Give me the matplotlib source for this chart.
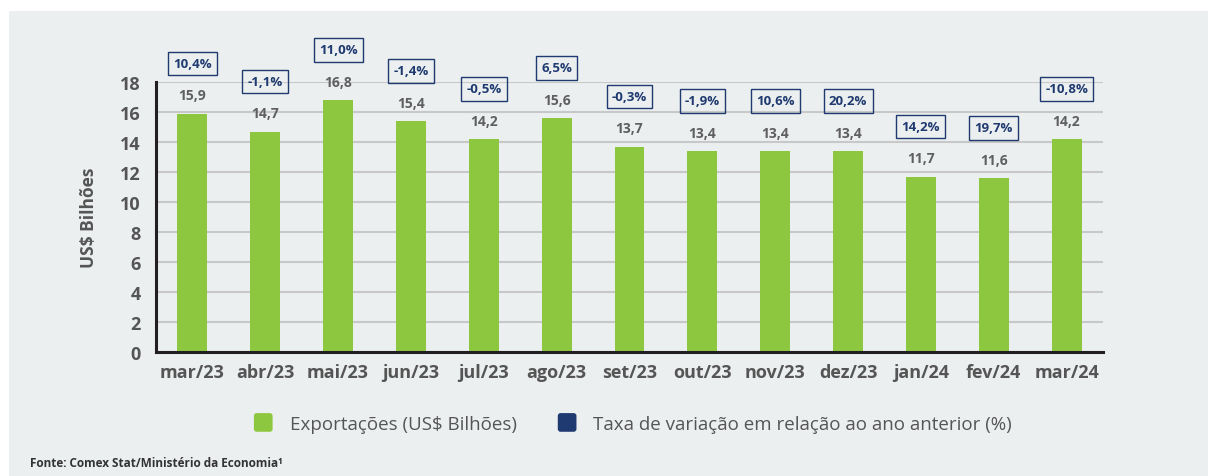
import numpy as np
import matplotlib.pyplot as plt
from matplotlib.patches import Rectangle, FancyBboxPatch
from matplotlib.legend_handler import HandlerPatch

plt.rcParams['font.family'] = ['Open Sans', 'DejaVu Sans']

meses = ['mar/23', 'abr/23', 'mai/23', 'jun/23', 'jul/23', 'ago/23', 'set/23',
         'out/23', 'nov/23', 'dez/23', 'jan/24', 'fev/24', 'mar/24']
exportacoes = [15.9, 14.7, 16.8, 15.4, 14.2, 15.6, 13.7, 13.4, 13.4, 13.4, 11.7, 11.6, 14.2]
variacao = [10.4, -1.1, 11.0, -1.4, -0.5, 6.5, -0.3, -1.9, 10.6, 20.2, 14.2, 19.7, -10.8]
yticks = [0, 2, 4, 6, 8, 10, 12, 14, 16, 18]

verde = '#8DC63F'
azul = '#1F3A70'
fundo = '#ECEFF0'
cinza = '#555555'

fig = plt.figure(figsize=(12.08, 4.77), dpi=100)
fig.add_artist(Rectangle((9 / 1208, 0), 1, (477 - 12) / 477, transform=fig.transFigure,
                         facecolor=fundo, edgecolor='none', zorder=-10))
ax = fig.add_axes([156 / 1208, (477 - 353) / 477, (1103 - 156) / 1208, (353 - 83) / 477])
ax.set_facecolor('none')
ax.set_zorder(2)

x = np.arange(len(meses))
ax.bar(x, exportacoes, width=0.41, color=verde, zorder=3)

def fmt(v):
    return ('%.1f' % v).replace('.', ',')

for xi, v, p in zip(x, exportacoes, variacao):
    ax.annotate(fmt(v), (xi, v), xytext=(0, 8), textcoords='offset points',
                ha='center', va='bottom', fontsize=10, fontweight='bold', color='#5f5f5f')
    ax.annotate(fmt(p) + '%', (xi, v), xytext=(0, 36), textcoords='offset points',
                ha='center', va='center', fontsize=9.5, fontweight='bold', color=azul,
                bbox=dict(boxstyle='square,pad=0.4', facecolor='none', edgecolor=azul, linewidth=1),
                annotation_clip=False)

ax.set_xlim(-0.5, len(meses) - 0.5)
ax.set_ylim(0, 18)
ax.set_yticks(yticks)
ax.set_xticks(x)
ax.set_xticklabels(meses)
ax.grid(axis='y', color='#C8C8C8', linewidth=1.5, zorder=1)
for s in ['top', 'right']:
    ax.spines[s].set_visible(False)
for s in ['left', 'bottom']:
    ax.spines[s].set_color('#231F20')
    ax.spines[s].set_linewidth(2.2)
    ax.spines[s].set_zorder(4)
ax.tick_params(length=0, labelsize=13, labelcolor=cinza)
ax.tick_params(axis='y', pad=11)
ax.tick_params(axis='x', pad=8)
for lab in ax.get_xticklabels() + ax.get_yticklabels():
    lab.set_fontweight('bold')
ax.set_ylabel('US$ Bilhões', fontsize=12.5, fontweight='bold', color=cinza, labelpad=16)

class RoundSquare(HandlerPatch):
    def create_artists(self, legend, orig, xd, yd, w, h, fs, trans):
        s = h + 4
        p = FancyBboxPatch((xd + (w - s) / 2, yd - 2), s, s,
                           boxstyle='round,pad=0,rounding_size=2',
                           facecolor=orig.get_facecolor(), edgecolor='none', transform=trans)
        return [p]

h1 = Rectangle((0, 0), 1, 1, facecolor=verde)
h2 = Rectangle((0, 0), 1, 1, facecolor=azul)
fig.legend([h1, h2], ['Exportações (US$ Bilhões)', 'Taxa de variação em relação ao ano anterior (%)'],
           loc='center', bbox_to_anchor=(633 / 1208, 1 - 425 / 477), ncol=2, frameon=False,
           fontsize=13.5, labelcolor=cinza, handlelength=1.0, handletextpad=0.9, columnspacing=2.2,
           handler_map={Rectangle: RoundSquare()})

fig.text(30 / 1208, 1 - 464 / 477, 'Fonte: Comex Stat/Ministério da Economia¹', fontsize=8.5,
         fontweight='bold', color='#333333', va='center', ha='left')

fig.savefig('out.png', dpi=100, facecolor='white')
